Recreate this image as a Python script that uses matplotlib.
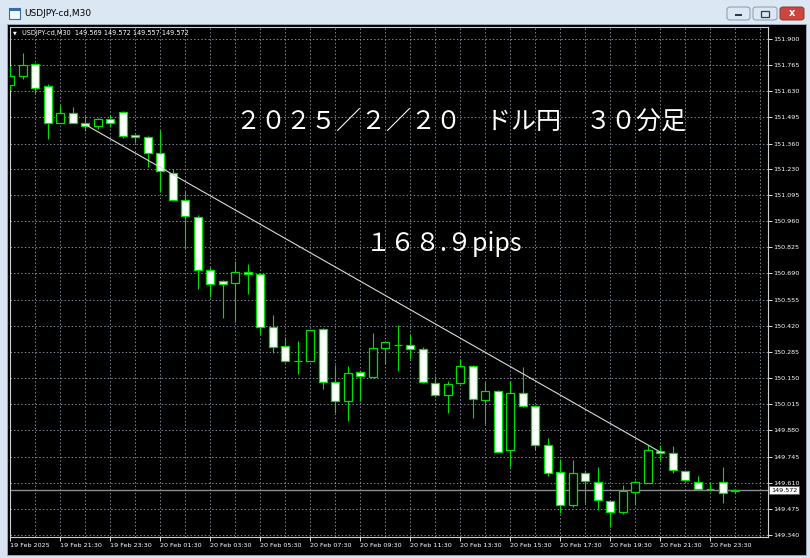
import numpy as np
import matplotlib.pyplot as plt
from matplotlib.patches import Rectangle, FancyBboxPatch

# USDJPY 30分足 (19 Feb 19:30 - 21 Feb 00:30), 画面から読み取った値
opens = [151.665, 151.708, 151.769, 151.656, 151.468, 151.518, 151.466, 151.453, 151.487, 151.523,
         151.406, 151.394, 151.313, 151.211, 151.071, 150.979, 150.707, 150.651, 150.643, 150.698,
         150.686, 150.413, 150.315, 150.237, 150.240, 150.404, 150.130, 150.033, 150.181, 150.154,
         150.303, 150.321, 150.321, 150.300, 150.122, 150.064, 150.122, 150.211, 150.038, 150.081,
         149.779, 150.072, 150.007, 149.802, 149.663, 149.497, 149.658, 149.615, 149.515, 149.460,
         149.562, 149.610, 149.774, 149.765, 149.672, 149.613, 149.579, 149.613, 149.569]
highs = [151.762, 151.826, 151.774, 151.670, 151.558, 151.549, 151.501, 151.493, 151.506, 151.527,
         151.408, 151.397, 151.428, 151.230, 151.118, 150.992, 150.724, 150.654, 150.755, 150.741,
         150.688, 150.475, 150.361, 150.340, 150.400, 150.408, 150.216, 150.211, 150.185, 150.383,
         150.340, 150.423, 150.375, 150.309, 150.159, 150.137, 150.246, 150.220, 150.128, 150.090,
         150.133, 150.207, 150.009, 149.843, 149.731, 149.727, 149.676, 149.689, 149.517, 149.598,
         149.622, 149.805, 149.805, 149.800, 149.675, 149.646, 149.615, 149.689, 149.572]
lows = [151.636, 151.696, 151.615, 151.382, 151.465, 151.465, 151.423, 151.437, 151.446, 151.389,
        151.365, 151.238, 151.109, 151.068, 150.816, 150.608, 150.570, 150.461, 150.440, 150.582,
        150.375, 150.280, 150.233, 150.171, 150.239, 150.095, 149.969, 149.929, 150.033, 150.151,
        150.223, 150.189, 150.251, 150.125, 150.050, 149.969, 150.117, 149.943, 149.912, 149.768,
        149.693, 150.002, 149.779, 149.646, 149.456, 149.486, 149.503, 149.468, 149.382, 149.446,
        149.493, 149.607, 149.727, 149.658, 149.620, 149.577, 149.567, 149.503, 149.557]
closes = [151.710, 151.765, 151.648, 151.468, 151.520, 151.466, 151.453, 151.489, 151.466, 151.401,
          151.394, 151.313, 151.220, 151.071, 150.985, 150.707, 150.637, 150.634, 150.698, 150.689,
          150.413, 150.309, 150.240, 150.240, 150.396, 150.130, 150.033, 150.176, 150.163, 150.306,
          150.335, 150.321, 150.300, 150.128, 150.064, 150.117, 150.211, 150.042, 150.081, 149.770,
          150.072, 150.007, 149.805, 149.662, 149.497, 149.658, 149.620, 149.523, 149.460, 149.567,
          149.613, 149.779, 149.765, 149.676, 149.622, 149.580, 149.580, 149.558, 149.572]

last_price = 149.572
trend_idx = [6, 52]
trend_price = [151.458, 149.769]

price_ticks = [151.900, 151.765, 151.630, 151.495, 151.360, 151.230, 151.095, 150.960, 150.825,
               150.690, 150.555, 150.420, 150.285, 150.150, 150.015, 149.880, 149.745, 149.610,
               149.475, 149.340]
time_labels = ['19 Feb 2025', '19 Feb 21:30', '19 Feb 23:30', '20 Feb 01:30', '20 Feb 03:30',
               '20 Feb 05:30', '20 Feb 07:30', '20 Feb 09:30', '20 Feb 11:30', '20 Feb 13:30',
               '20 Feb 15:30', '20 Feb 17:30', '20 Feb 19:30', '20 Feb 21:30', '20 Feb 23:30']

window_title = 'USDJPY-cd,M30'
header_text = 'USDJPY-cd,M30  149.569 149.572 149.557 149.572'
title_text = '２０２５／２／２０　ドル円　３０分足'
pips_text = '１６８.９pips'

W, H = 810, 558
green = '#00e000'
grid_col = '#7d8794'
jp_font = ['Noto Sans CJK JP', 'DejaVu Sans']

plt.rcParams['font.family'] = ['DejaVu Sans']

fig = plt.figure(figsize=(W / 100, H / 100), dpi=100, facecolor='#d8e4f1')


def px_box(x0, y0, x1, y1, **kw):
    # pixel box (from top left) to figure fraction
    return fig.add_artist(Rectangle((x0 / W, 1 - y1 / H), (x1 - x0) / W, (y1 - y0) / H,
                                    transform=fig.transFigure, **kw))


# window frame
px_box(0, 0, W, 24, fc='#dce7f4', ec='none', zorder=0)
px_box(7, 24, 806, 555, fc='black', ec='#a0b0c4', lw=0.6, zorder=0)
px_box(9, 8, 20, 19, fc='#f0f6fc', ec='#3a6aa8', lw=0.8, zorder=1)
px_box(9, 8, 20, 11, fc='#3a6aa8', ec='none', zorder=1)
fig.text(24 / W, 1 - 14 / H, window_title, fontsize=6.5, color='black', va='center')

for x0, x1, fc, ec in [(727, 750, '#dde7f3', '#8797ab'), (753, 777, '#dde7f3', '#8797ab'),
                       (780, 804, '#c9473e', '#8b3a32')]:
    fig.add_artist(FancyBboxPatch((x0 / W, 1 - 20 / H), (x1 - x0) / W, 13 / H,
                                  boxstyle='round,pad=0,rounding_size=0.004',
                                  transform=fig.transFigure, fc=fc, ec=ec, lw=0.7, zorder=1))
px_box(735, 14, 742, 16, fc='#2b3a4c', ec='none', zorder=2)
px_box(761, 11, 769, 17, fc='none', ec='#2b3a4c', lw=0.9, zorder=2)
fig.text(792 / W, 1 - 13.5 / H, 'x', fontsize=7, color='white', weight='bold',
         ha='center', va='center')

# chart
ax = fig.add_axes([10 / W, 21 / H, 758 / W, 510 / H])
ax.set_facecolor('black')

x = np.arange(len(opens))
body_w = 0.64

ax.vlines(x, lows, highs, color=green, lw=0.8, zorder=3)
for i in range(len(opens)):
    o, c = opens[i], closes[i]
    face = 'white' if c < o else 'black'
    ax.add_patch(Rectangle((x[i] - body_w / 2, min(o, c)), body_w, abs(c - o),
                           fc=face, ec=green, lw=0.9, zorder=4))

ax.plot(trend_idx, trend_price, color='#d8d8d8', lw=0.8, zorder=5)
ax.axhline(last_price, color='#8c8c8c', lw=1.0, zorder=2)

ax.set_xlim(-0.03, 60.64)
ax.set_ylim(149.3297, 151.962)

ax.set_xticks(x[::4])
ax.set_xticklabels(time_labels, ha='left')
ax.set_xticks(np.arange(0, 61, 2), minor=True)
ax.yaxis.tick_right()
ax.set_yticks(price_ticks)
ax.set_yticklabels(['%.3f' % p for p in price_ticks])

ax.grid(True, which='both', axis='x', color=grid_col, lw=0.72, linestyle=(0, (1.4, 2.2)), zorder=1)
ax.grid(True, which='major', axis='y', color=grid_col, lw=0.72, linestyle=(0, (1.4, 2.2)), zorder=1)
ax.tick_params(axis='both', which='major', colors='#e0e0e0', labelcolor='white',
               labelsize=4.6, length=3, width=0.7, pad=1)
ax.tick_params(axis='x', which='minor', length=0)
for s in ax.spines.values():
    s.set_color('#d0d0d0')
    s.set_linewidth(0.8)

ax.annotate('%.3f' % last_price, xy=(1.004, last_price), xycoords=('axes fraction', 'data'),
            ha='left', va='center', fontsize=4.6, color='black',
            bbox=dict(boxstyle='square,pad=0.25', fc='white', ec='#606060', lw=0.5),
            annotation_clip=False, zorder=6)

ax.text(0.004, 0.988, '\u25bc', transform=ax.transAxes, fontsize=3.5, color='white',
        ha='left', va='center')
ax.text(0.0155, 0.988, header_text, transform=ax.transAxes, fontsize=4.7, color='white',
        ha='left', va='center')

ax.text(0.298, 0.814, title_text, transform=ax.transAxes, fontsize=18, color='white',
        family=jp_font, ha='left', va='center', zorder=6)
ax.text(0.469, 0.575, pips_text, transform=ax.transAxes, fontsize=18, color='white',
        family=jp_font, ha='left', va='center', zorder=6)

fig.savefig('out.png', dpi=100, facecolor=fig.get_facecolor())
